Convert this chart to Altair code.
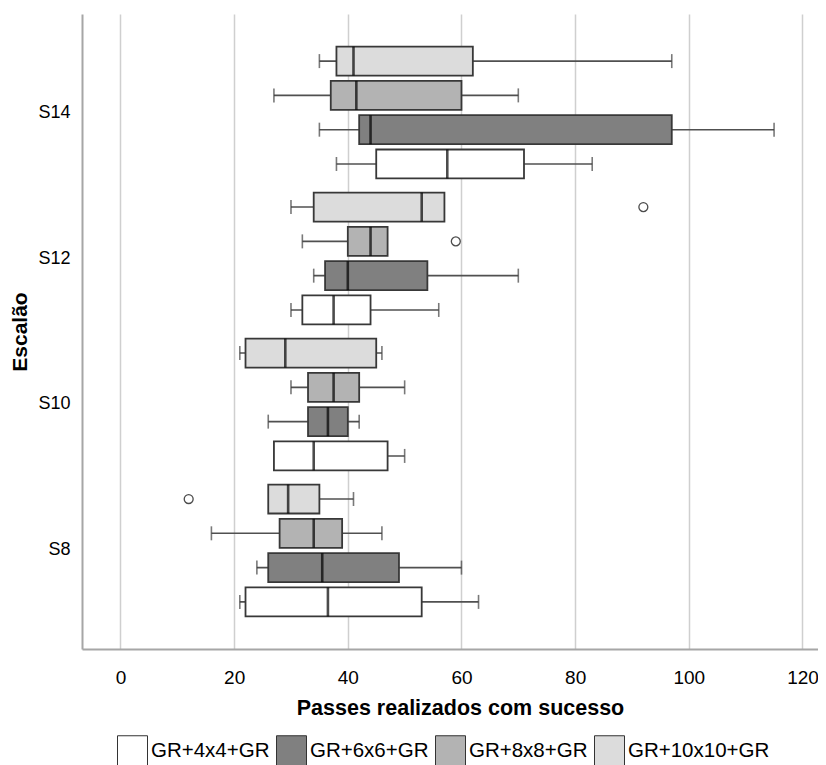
import altair as alt
import pandas as pd

groups = ["S14", "S12", "S10", "S8"]
series = ["GR+4x4+GR", "GR+6x6+GR", "GR+8x8+GR", "GR+10x10+GR"]
colors = ["#ffffff", "#808080", "#b3b3b3", "#dcdcdc"]

# stats per series, in group order S14, S12, S10, S8
mins = {
    "GR+4x4+GR":   [38, 30, 27, 21],
    "GR+6x6+GR":   [35, 34, 26, 24],
    "GR+8x8+GR":   [27, 32, 30, 16],
    "GR+10x10+GR": [35, 30, 21, 26],
}
q1s = {
    "GR+4x4+GR":   [45, 32, 27, 22],
    "GR+6x6+GR":   [42, 36, 33, 26],
    "GR+8x8+GR":   [37, 40, 33, 28],
    "GR+10x10+GR": [38, 34, 22, 26],
}
medians = {
    "GR+4x4+GR":   [57.5, 37.5, 34, 36.5],
    "GR+6x6+GR":   [44, 40, 36.5, 35.5],
    "GR+8x8+GR":   [41.5, 44, 37.5, 34],
    "GR+10x10+GR": [41, 53, 29, 29.5],
}
q3s = {
    "GR+4x4+GR":   [71, 44, 47, 53],
    "GR+6x6+GR":   [97, 54, 40, 49],
    "GR+8x8+GR":   [60, 47, 42, 39],
    "GR+10x10+GR": [62, 57, 45, 35],
}
maxs = {
    "GR+4x4+GR":   [83, 56, 50, 63],
    "GR+6x6+GR":   [115, 70, 42, 60],
    "GR+8x8+GR":   [70, 47, 50, 46],
    "GR+10x10+GR": [97, 57, 46, 41],
}
outlier_group = ["S12", "S12", "S8"]
outlier_series = ["GR+10x10+GR", "GR+8x8+GR", "GR+10x10+GR"]
outlier_value = [92, 59, 12]

rows = []
for s in series:
    for i, g in enumerate(groups):
        rows.append({"Escalão": g, "Série": s, "min": mins[s][i], "q1": q1s[s][i],
                     "med": medians[s][i], "q3": q3s[s][i], "max": maxs[s][i]})
df = pd.DataFrame(rows)
dfo = pd.DataFrame({"Escalão": outlier_group, "Série": outlier_series, "v": outlier_value})

FONT = "Liberation Sans"
xscale = alt.Scale(domain=[-6.77, 122.73], nice=False, zero=False)
yenc = alt.Y("Escalão:N", sort=groups,
             scale=alt.Scale(paddingInner=0, paddingOuter=0.175),
             axis=alt.Axis(title="Escalão", ticks=False, labelPadding=12, labelFontSize=18,
                           titleFontSize=21, titleFontWeight="bold", titlePadding=7,
                           domainColor="#a6a6a6", domainWidth=2, grid=False))
yoff = alt.YOffset("Série:N", sort=list(reversed(series)),
                   scale=alt.Scale(paddingInner=0.155, paddingOuter=0.206))
xaxis = alt.Axis(values=[0, 20, 40, 60, 80, 100, 120], title="Passes realizados com sucesso",
                 ticks=False, labelPadding=19, labelFontSize=19, titleFontSize=21.5,
                 titleFontWeight="bold", titlePadding=10, titleX=378, grid=True,
                 gridColor="#cfcfcf", gridWidth=1.5, domainColor="#a6a6a6", domainWidth=2)

base = alt.Chart(df)

whisker = base.mark_rule(color="#505050", strokeWidth=1.6).encode(
    x=alt.X("min:Q", scale=xscale, axis=xaxis), x2="max:Q", y=yenc, yOffset=yoff)

box = base.mark_bar(stroke="#383838", strokeWidth=1.8).encode(
    x=alt.X("q1:Q", scale=xscale), x2="q3:Q", y=yenc, yOffset=yoff,
    fill=alt.Fill("Série:N", scale=alt.Scale(domain=series, range=colors),
                  legend=alt.Legend(title=None, orient="none", direction="horizontal",
                                    legendX=35, legendY=721, symbolType="square",
                                    symbolSize=900, symbolStrokeColor="#333333",
                                    symbolStrokeWidth=1, labelFontSize=20.5, labelOffset=3,
                                    columnPadding=4, labelFont=FONT)))

median = base.mark_tick(color="#000000", thickness=2.6, size=29).encode(
    x=alt.X("med:Q", scale=xscale), y=yenc, yOffset=yoff)

cap_lo = base.transform_filter("datum.min < datum.q1").mark_tick(
    color="#404040", thickness=1.6, size=14).encode(
    x=alt.X("min:Q", scale=xscale), y=yenc, yOffset=yoff)

cap_hi = base.transform_filter("datum.max > datum.q3").mark_tick(
    color="#404040", thickness=1.6, size=14).encode(
    x=alt.X("max:Q", scale=xscale), y=yenc, yOffset=yoff)

outl = alt.Chart(dfo).mark_point(shape="circle", filled=False, size=80, color="#000000",
                                 strokeWidth=1.3).encode(
    x=alt.X("v:Q", scale=xscale), y=yenc, yOffset=yoff)

chart = alt.layer(whisker, box, median, cap_lo, cap_hi, outl).properties(
    width=736, height=635,
    autosize=alt.AutoSizeParams(type="none"),
    padding={"left": 74, "top": 6, "right": 0, "bottom": 124},
).configure_view(stroke=None).configure_axis(
    labelFont=FONT, titleFont=FONT, labelColor="#000000", titleColor="#000000"
).configure_legend(labelFont=FONT, labelColor="#000000")

chart.save("out.html", embed_options={"renderer": "svg", "actions": False})
